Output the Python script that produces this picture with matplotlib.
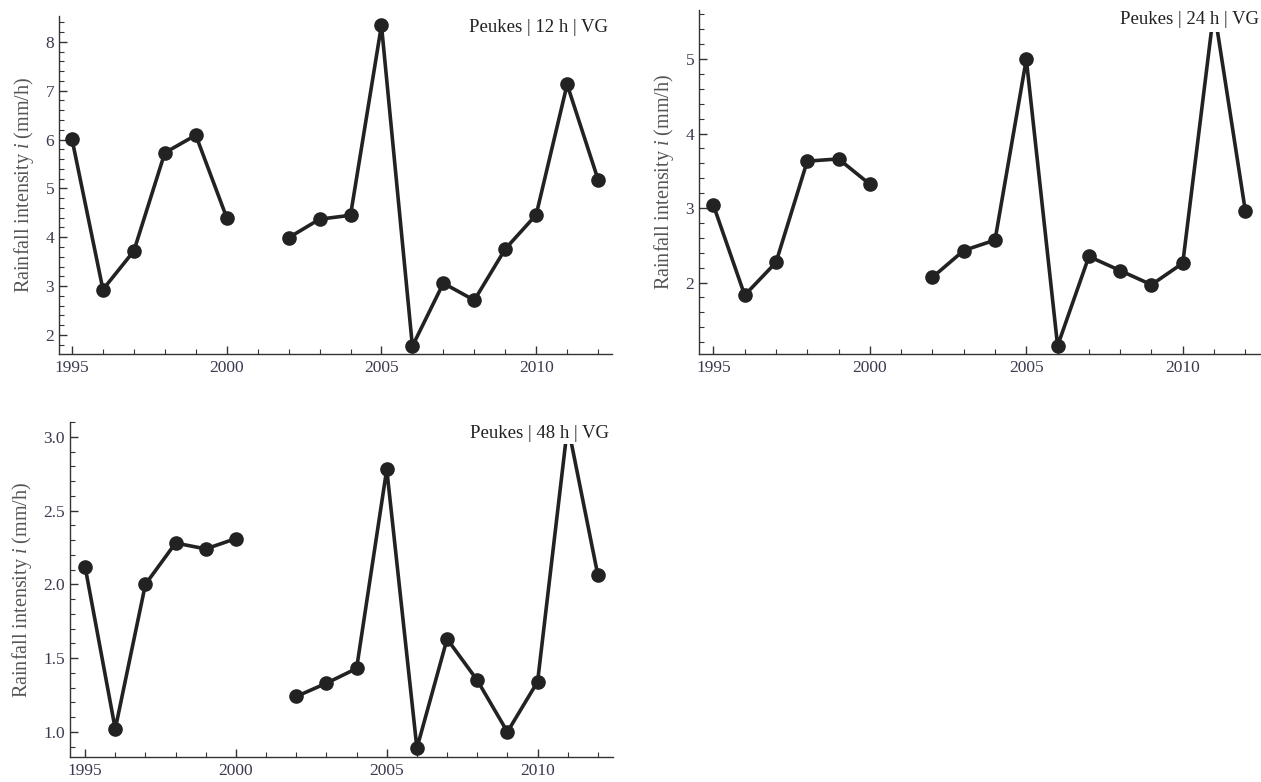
import numpy as np
import matplotlib
matplotlib.use("Agg")
import matplotlib.pyplot as plt
from matplotlib.ticker import MultipleLocator, FormatStrFormatter
from matplotlib.patches import Rectangle

plt.rcParams['font.family'] = ['Liberation Serif', 'DejaVu Serif']
plt.rcParams['mathtext.fontset'] = 'custom'
plt.rcParams['mathtext.rm'] = 'Liberation Serif'
plt.rcParams['mathtext.it'] = 'Liberation Serif:italic'

years = np.arange(1995, 2013)
# 2001 has no value; 2011 peaks in 24 h / 48 h run past the plot range (clipped)
i_12h = [6.01, 2.93, 3.72, 5.73, 6.09, 4.40, np.nan, 3.99, 4.37, 4.45, 8.34,
         1.77, 3.06, 2.71, 3.76, 4.46, 7.13, 5.18]
i_24h = [3.04, 1.83, 2.27, 3.63, 3.66, 3.32, np.nan, 2.07, 2.43, 2.57, 5.00,
         1.15, 2.35, 2.16, 1.97, 2.26, 5.67, 2.96]
i_48h = [2.12, 1.02, 2.00, 2.28, 2.24, 2.31, np.nan, 1.24, 1.33, 1.43, 2.78,
         0.89, 1.63, 1.35, 1.00, 1.34, 3.08, 2.06]
titles = ["Peukes | 12 h | VG", "Peukes | 24 h | VG", "Peukes | 48 h | VG"]

W, H = 1261, 782
fig = plt.figure(figsize=(W / 100, H / 100), dpi=100)

def box(l, r, t, b):
    return [l / W, 1 - b / H, (r - l) / W, (b - t) / H]

# rect, values, xlim, ylim, y clip top, major, minor, fmt, title pos (px)
panels = [
    (box(59, 612, 16, 354), i_12h, (1994.58, 2012.45), (1.61, 8.53), 8.6, 1, 0.2, "%d", (608, 28)),
    (box(699, 1261, 10, 354), i_24h, (1994.54, 2012.5), (1.04, 5.66), 5.36, 1, 0.2, "%d", (1259, 20)),
    (box(70, 613, 422, 757), i_48h, (1994.5, 2012.5), (0.83, 3.1), 2.95, 0.5, 0.1, "%.1f", (609, 434)),
]

axis_col = "#333333"
tick_col = "#3a3a50"

for (rect, vals, xl, yl, ytop, maj, mnr, fmt, tpos), title in zip(panels, titles):
    ax = fig.add_axes(rect)
    ln, = ax.plot(years, vals, color="#222222", lw=2.6, marker="o", ms=9.5,
                  zorder=3)
    clip = Rectangle((1990, -10), 30, ytop + 10, transform=ax.transData)
    ln.set_clip_path(clip)
    ax.set_xlim(*xl)
    ax.set_ylim(*yl)
    for s in ["top", "right"]:
        ax.spines[s].set_visible(False)
    for s in ["left", "bottom"]:
        ax.spines[s].set_color(axis_col)
        ax.spines[s].set_linewidth(1.0)
    ax.xaxis.set_major_locator(MultipleLocator(5))
    ax.xaxis.set_minor_locator(MultipleLocator(1))
    ax.yaxis.set_major_locator(MultipleLocator(maj))
    ax.yaxis.set_minor_locator(MultipleLocator(mnr))
    ax.yaxis.set_major_formatter(FormatStrFormatter(fmt))
    ax.tick_params(which="both", direction="in", color=axis_col,
                   labelcolor=tick_col, labelsize=12.5)
    ax.tick_params(which="major", length=6, width=1)
    ax.tick_params(which="minor", length=3.5, width=0.8)
    ax.tick_params(axis="x", pad=4)
    ax.set_ylabel("Rainfall intensity $i$ (mm/h)", fontsize=14.5,
                  color="#555555", labelpad=7)
    fig.text(tpos[0] / W, 1 - tpos[1] / H, title, ha="right", va="center",
             fontsize=13.5, color="#222222")

fig.savefig("out.png", dpi=100)
